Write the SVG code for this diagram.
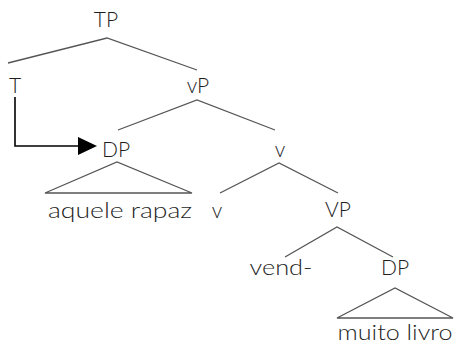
<svg xmlns="http://www.w3.org/2000/svg" width="457" height="345" viewBox="0 0 457 345">
<style>
text{font-family:"Lato","Open Sans","Liberation Sans",sans-serif;font-weight:300;font-size:21px;fill:#1e1e1e;text-anchor:middle}
.e{stroke:#555;stroke-width:1.3;fill:none}
.a{stroke:#000;stroke-width:1.6;fill:none}
</style>
<g id="connectors">
<path class="e" d="M8,63 L107,38 L197,70"/>
<path class="e" d="M118,130 L197,100 L275,130"/>
<path class="e" d="M220,193 L279,163 L338,193"/>
<path class="e" d="M285,257 L337,227 L393,257"/>
<path class="e" d="M45,193 L117,162 L192,193 Z"/>
<path class="e" d="M337,318 L395,288 L453,318 Z"/>
<path d="M15,97 V146 H79" class="a"/>
<path d="M78,137 L97,146 L78,155 Z" fill="#000"/>
</g>
<g id="TP"><text x="106" y="27">TP</text></g>
<g id="T"><text x="15" y="93">T</text></g>
<g id="vP"><text x="198" y="93">vP</text></g>
<g id="DP1"><text x="116" y="157">DP</text></g>
<g id="vbar"><text x="280" y="157">v</text></g>
<g id="aquele"><text x="120" y="218" textLength="144" lengthAdjust="spacingAndGlyphs">aquele rapaz</text></g>
<g id="v"><text x="217" y="218">v</text></g>
<g id="VP"><text x="338" y="217">VP</text></g>
<g id="vend"><text x="281" y="275" textLength="63" lengthAdjust="spacingAndGlyphs">vend-</text></g>
<g id="DP2"><text x="395" y="275">DP</text></g>
<g id="muito"><text x="395" y="340" textLength="115" lengthAdjust="spacingAndGlyphs">muito livro</text></g>
</svg>
